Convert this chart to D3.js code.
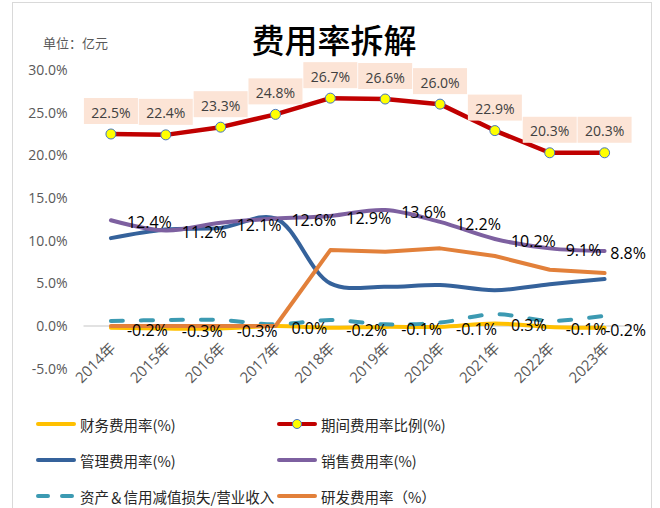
<!DOCTYPE html>
<html>
<head>
<meta charset="utf-8">
<script src="https://cdn.jsdelivr.net/npm/d3@7"></script>
<style>
  body { margin: 0; background: #fff; }
  text { font-family: "Open Sans", "Noto Sans CJK SC", sans-serif; }
</style>
</head>
<body>
<svg id="chart"></svg>
<script>
// 数据
const years = ['2014年','2015年','2016年','2017年','2018年','2019年','2020年','2021年','2022年','2023年'];
const finance = [-0.2, -0.3, -0.3, 0.0, -0.2, -0.1, -0.1, 0.3, -0.1, -0.2];
const period = [22.5, 22.4, 23.3, 24.8, 26.7, 26.6, 26.0, 22.9, 20.3, 20.3];
const admin = [10.3, 11.3, 11.5, 12.6, 5.0, 4.6, 4.8, 4.2, 4.9, 5.5];
const sales = [12.4, 11.2, 12.1, 12.6, 12.9, 13.6, 12.2, 10.2, 9.1, 8.8];
const impair = [0.6, 0.7, 0.7, 0.2, 0.7, 0.2, 0.4, 1.4, 0.6, 1.2];
const rnd = [0.0, 0.0, 0.0, 0.0, 8.9, 8.7, 9.1, 8.2, 6.6, 6.2];
const yticks = [-5, 0, 5, 10, 15, 20, 25, 30];

const series = [
    {name: '财务费用率(%)', values: finance, color: '#FFC000', curve: 'smooth'},
    {name: '期间费用率比例(%)', values: period, color: '#C00000', curve: 'linear', marker: true},
    {name: '管理费用率(%)', values: admin, color: '#35629B', curve: 'smooth'},
    {name: '销售费用率(%)', values: sales, color: '#7D60A0', curve: 'smooth'},
    {name: '资产＆信用减值损失/营业收入', values: impair, color: '#3C9AB2', curve: 'smooth', dash: true},
    {name: '研发费用率（%）', values: rnd, color: '#E2803A', curve: 'linear'},
];

class FeeChart {
    constructor(config) {
        this.config = {
            parent: config.parent,
            width: config.width || 660,
            height: config.height || 508,
            left: 83.5, right: 632, top: 70, bottom: 368.7
        };
        this.init();
    }

    init() {
        let self = this;
        const c = self.config;
        self.svg = d3.select(c.parent)
            .attr('width', c.width)
            .attr('height', c.height);

        // 外框
        self.svg.append('rect')
            .attr('x', 12.5).attr('y', 2.5)
            .attr('width', 639).attr('height', 520)
            .attr('fill', '#fff')
            .attr('stroke', '#d9d9d9');

        self.xscale = d3.scalePoint()
            .domain(years)
            .range([c.left, c.right])
            .padding(0.5);
        self.yscale = d3.scaleLinear()
            .domain([-5, 30])
            .range([c.bottom, c.top]);

        self.svg.append('text')
            .attr('x', 334).attr('y', 39)
            .attr('text-anchor', 'middle')
            .attr('dominant-baseline', 'central')
            .style('font-family', '"Noto Sans CJK SC"')
            .style('font-size', '33px')
            .style('font-weight', 500)
            .attr('fill', '#000')
            .text('费用率拆解');

        self.svg.append('text')
            .attr('x', 43).attr('y', 42)
            .attr('dominant-baseline', 'central')
            .style('font-family', '"Noto Sans CJK SC"')
            .style('font-size', '13px')
            .attr('fill', '#595959')
            .text('单位：亿元');

        self.render();
    }

    render() {
        let self = this;
        const c = self.config;
        const x = self.xscale, y = self.yscale;
        const curves = {
            smooth: d3.curveCatmullRom.alpha(0.5),
            linear: d3.curveLinear
        };

        const yaxis = d3.axisLeft(y)
            .tickValues(yticks)
            .tickSize(0)
            .tickPadding(16)
            .tickFormat(d => d.toFixed(1) + '%');
        const yg = self.svg.append('g')
            .attr('transform', `translate(${c.left}, 0)`)
            .call(yaxis);
        yg.select('.domain').remove();
        yg.selectAll('text')
            .style('font-size', '14px')
            .attr('fill', '#595959');

        const xaxis = d3.axisBottom(x).tickSize(0).tickSizeOuter(0);
        const xg = self.svg.append('g')
            .attr('transform', `translate(0, ${y(0)})`)
            .call(xaxis);
        xg.select('.domain')
            .attr('stroke', '#d9d9d9')
            .attr('stroke-width', 1.5)
            .attr('d', `M${c.left},0H${c.right}`);
        xg.selectAll('text')
            .attr('text-anchor', 'end')
            .attr('dy', 0)
            .attr('transform', 'translate(3, 21) rotate(-45)')
            .style('font-size', '15px')
            .attr('fill', '#595959');

        const lines = self.svg.append('g');
        series.forEach(s => {
            const line = d3.line()
                .x((d, i) => x(years[i]))
                .y(d => y(d))
                .curve(curves[s.curve]);
            lines.append('path')
                .datum(s.values)
                .attr('d', line)
                .attr('fill', 'none')
                .attr('stroke', s.color)
                .attr('stroke-width', s.marker ? 4.5 : 4)
                .attr('stroke-linecap', 'round')
                .attr('stroke-linejoin', 'round')
                .attr('stroke-dasharray', s.dash ? '12,18' : null);
        });

        // 期间费用率标记
        lines.selectAll('circle')
            .data(period)
            .join('circle')
            .attr('cx', (d, i) => x(years[i]))
            .attr('cy', d => y(d))
            .attr('r', 5)
            .attr('fill', '#FFFF00')
            .attr('stroke', '#4472C4')
            .attr('stroke-width', 1);

        // 期间费用率标签框
        const boxes = self.svg.append('g').selectAll('g')
            .data(period)
            .join('g')
            .attr('transform', (d, i) => `translate(${x(years[i])}, ${y(d) - 23})`);
        boxes.append('rect')
            .attr('x', -27).attr('y', -13)
            .attr('width', 54).attr('height', 26)
            .attr('fill', '#FCE4D6');
        boxes.append('text')
            .attr('text-anchor', 'middle')
            .attr('y', 1)
            .attr('dominant-baseline', 'central')
            .style('font-size', '14px')
            .attr('fill', '#404040')
            .text(d => d.toFixed(1) + '%');

        // 销售、财务费用率标签（右侧）
        [sales, finance].forEach(vals => {
            self.svg.append('g').selectAll('text')
                .data(vals)
                .join('text')
                .attr('x', (d, i) => i === vals.length - 1 ? 646 : x(years[i]) + 16)
                .attr('y', d => y(d) + 2)
                .attr('text-anchor', (d, i) => i === vals.length - 1 ? 'end' : 'start')
                .attr('dominant-baseline', 'central')
                .style('font-size', '16px')
                .attr('fill', '#000')
                .text(d => d.toFixed(1) + '%');
        });

        // 图例
        const legend = self.svg.append('g');
        series.forEach((s, i) => {
            const lx = i % 2 === 0 ? 36 : 277;
            const ly = 424 + Math.floor(i / 2) * 36;
            const item = legend.append('g').attr('transform', `translate(${lx}, ${ly})`);
            item.append('line')
                .attr('x1', 2).attr('x2', 38)
                .attr('stroke', s.color)
                .attr('stroke-width', 4)
                .attr('stroke-linecap', 'round')
                .attr('stroke-dasharray', s.dash ? '10,14' : null);
            if (s.marker) {
                item.append('circle')
                    .attr('cx', 20).attr('r', 4.5)
                    .attr('fill', '#FFFF00')
                    .attr('stroke', '#4472C4');
            }
            item.append('text')
                .attr('x', 44)
                .attr('dominant-baseline', 'central')
                .style('font-family', '"Noto Sans CJK SC"')
                .style('font-size', '14.5px')
                .attr('fill', '#262626')
                .text(s.name);
        });
    }
}

new FeeChart({parent: '#chart', width: 660, height: 508});
</script>
</body>
</html>
